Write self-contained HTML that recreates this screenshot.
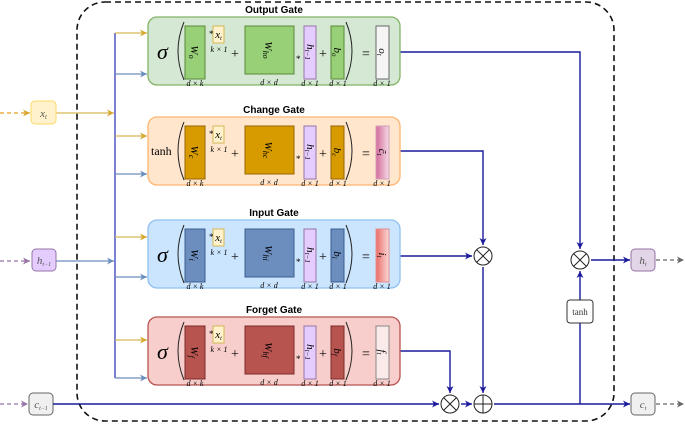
<!DOCTYPE html>
<html><head><meta charset="utf-8"><style>
body{margin:0;background:#fff}
svg{display:block;font-family:"Liberation Serif",serif}
.t{font-family:"Liberation Sans",sans-serif;font-weight:bold;font-size:10px}
.d{font-size:8px;font-style:italic}
.m{font-size:11px;font-style:italic}
</style></head><body>
<svg width="685" height="424" viewBox="0 0 685 424" xmlns="http://www.w3.org/2000/svg">
<defs>
<marker id="ab" markerWidth="8" markerHeight="8" refX="7" refY="4" orient="auto" markerUnits="userSpaceOnUse"><path d="M0,0.5 L7,4 L0,7.5 L2,4z" fill="#1a1a9a"/></marker>
<marker id="ay" markerWidth="8" markerHeight="8" refX="7" refY="4" orient="auto" markerUnits="userSpaceOnUse"><path d="M0,0.5 L7,4 L0,7.5 L2,4z" fill="#d6a830"/></marker>
<marker id="al" markerWidth="8" markerHeight="8" refX="7" refY="4" orient="auto" markerUnits="userSpaceOnUse"><path d="M0,0.5 L7,4 L0,7.5 L2,4z" fill="#6c8ebf"/></marker>
<marker id="ap" markerWidth="8" markerHeight="8" refX="7" refY="4" orient="auto" markerUnits="userSpaceOnUse"><path d="M0,0.5 L7,4 L0,7.5 L2,4z" fill="#9673a6"/></marker>
<marker id="ag" markerWidth="8" markerHeight="8" refX="7" refY="4" orient="auto" markerUnits="userSpaceOnUse"><path d="M0,0.5 L7,4 L0,7.5 L2,4z" fill="#666"/></marker>
<linearGradient id="gp" x1="0" x2="1"><stop offset="0" stop-color="#d46a9a"/><stop offset="1" stop-color="#f5dbe6"/></linearGradient>
<linearGradient id="gr" x1="0" x2="1"><stop offset="0" stop-color="#ea6b66"/><stop offset="1" stop-color="#fbd9d8"/></linearGradient>
</defs>

<!-- outer dashed -->
<rect x="77" y="2" width="537" height="419" rx="28" fill="none" stroke="#111" stroke-width="1.6" stroke-dasharray="6,4"/>

<!-- left bus -->
<line x1="115" y1="33" x2="115" y2="378" stroke="#5b5fc7" stroke-width="1.6"/>
<g stroke-width="1.2" fill="none">
<line x1="115" y1="33" x2="147" y2="33" stroke="#d6b656" marker-end="url(#ay)"/>
<line x1="115" y1="136" x2="147" y2="136" stroke="#d6b656" marker-end="url(#ay)"/>
<line x1="115" y1="237" x2="147" y2="237" stroke="#d6b656" marker-end="url(#ay)"/>
<line x1="115" y1="340" x2="147" y2="340" stroke="#d6b656" marker-end="url(#ay)"/>
<line x1="115" y1="74" x2="147" y2="74" stroke="#6c8ebf" marker-end="url(#al)"/>
<line x1="115" y1="174" x2="147" y2="174" stroke="#6c8ebf" marker-end="url(#al)"/>
<line x1="115" y1="277" x2="147" y2="277" stroke="#6c8ebf" marker-end="url(#al)"/>
<line x1="115" y1="378" x2="147" y2="378" stroke="#6c8ebf" marker-end="url(#al)"/>
<line x1="56" y1="113" x2="114" y2="113" stroke="#d6b656" marker-end="url(#ay)"/>
<line x1="56" y1="261" x2="114" y2="261" stroke="#6c8ebf" marker-end="url(#al)"/>
<line x1="0" y1="113" x2="30" y2="113" stroke="#e0a020" stroke-dasharray="4,3" marker-end="url(#ay)"/>
<line x1="0" y1="261" x2="30" y2="261" stroke="#9673a6" stroke-dasharray="4,3" marker-end="url(#ap)"/>
<line x1="0" y1="404" x2="28" y2="404" stroke="#9673a6" stroke-dasharray="4,3" marker-end="url(#ap)"/>
<line x1="656" y1="260" x2="684" y2="260" stroke="#666" stroke-dasharray="4,3" marker-end="url(#ag)"/>
<line x1="656" y1="404" x2="684" y2="404" stroke="#666" stroke-dasharray="4,3" marker-end="url(#ag)"/>
</g>
<rect x="31" y="101" width="25" height="23" rx="4" fill="#fff2cc" stroke="#ffd966"/>
<text x="43.5" y="117" text-anchor="middle" class="m" font-size="10" fill="#555">x<tspan font-size="7" dy="2">t</tspan></text>
<rect x="32" y="249" width="24" height="22" rx="4" fill="#e5ccff" stroke="#9673a6"/>
<text x="44" y="264" text-anchor="middle" class="m" font-size="9" fill="#555">h<tspan font-size="6" dy="2">t−1</tspan></text>
<rect x="29" y="393" width="24" height="22" rx="4" fill="#f0f0f0" stroke="#666"/>
<text x="41" y="408" text-anchor="middle" class="m" font-size="9" fill="#555">c<tspan font-size="6" dy="2">t−1</tspan></text>
<rect x="631" y="249" width="24" height="22" rx="4" fill="#e1d5e7" stroke="#9673a6"/>
<text x="643" y="264" text-anchor="middle" class="m" font-size="9" fill="#555">h<tspan font-size="6" dy="2">t</tspan></text>
<rect x="631" y="393" width="24" height="22" rx="4" fill="#f0f0f0" stroke="#666"/>
<text x="643" y="408" text-anchor="middle" class="m" font-size="9" fill="#555">c<tspan font-size="6" dy="2">t</tspan></text>

<!-- right connectors -->
<g stroke="#1a1a9a" stroke-width="1.4" fill="none">
<polyline points="400,52 580,52 580,249" marker-end="url(#ab)"/>
<polyline points="400,151 483,151 483,245" marker-end="url(#ab)"/>
<line x1="400" y1="256" x2="472" y2="256" marker-end="url(#ab)"/>
<polyline points="400,351 450,351 450,393" marker-end="url(#ab)"/>
<line x1="483" y1="267" x2="483" y2="393" marker-end="url(#ab)"/>
<line x1="53" y1="404" x2="439" y2="404" marker-end="url(#ab)"/>
<line x1="461" y1="404" x2="472" y2="404" marker-end="url(#ab)"/>
<line x1="494" y1="404" x2="630" y2="404" marker-end="url(#ab)"/>
<line x1="580" y1="404" x2="580" y2="323"/>
<line x1="580" y1="300" x2="580" y2="271" marker-end="url(#ab)"/>
<line x1="591" y1="260" x2="630" y2="260" marker-end="url(#ab)"/>
</g>
<g fill="#fff" stroke="#222" stroke-width="1">
<circle cx="483" cy="256" r="9"/><path d="M476.6,249.6 L489.4,262.4 M489.4,249.6 L476.6,262.4"/>
<circle cx="580" cy="260" r="9"/><path d="M573.6,253.6 L586.4,266.4 M586.4,253.6 L573.6,266.4"/>
<circle cx="450" cy="404" r="9"/><path d="M443.6,397.6 L456.4,410.4 M456.4,397.6 L443.6,410.4"/>
<circle cx="483" cy="404" r="9"/><path d="M483,395 L483,413 M474,404 L492,404"/>
</g>
<rect x="567" y="300" width="26" height="23" rx="3" fill="#fff" stroke="#333"/>
<text x="580" y="315" text-anchor="middle" font-size="9" fill="#333">tanh</text>

<!-- Gates -->
<!-- Output -->
<text x="274" y="13" text-anchor="middle" class="t">Output Gate</text>
<g transform="translate(148,17)">
<rect x="0" y="0" width="252" height="68" rx="9" fill="#d5e8d4" stroke="#82b366" stroke-width="1.3"/>
<text x="9" y="42" font-size="22" font-style="italic">σ</text>
<path d="M36,5 Q24,34 36,63" fill="none" stroke="#222"/><path d="M198,5 Q210,34 198,63" fill="none" stroke="#222"/>
<rect x="37" y="9" width="20" height="53" fill="#97d077" stroke="#5a8a3a"/><text transform="translate(43,35) rotate(90)" text-anchor="middle" class="m">W<tspan font-size="8" dy="2">o</tspan></text>
<rect x="65" y="9" width="11" height="17" fill="#fff2cc" stroke="#d6b656"/><text x="70.5" y="21" text-anchor="middle" class="m" font-size="10">x<tspan font-size="6" dy="2">t</tspan></text>
<text x="61" y="20" font-size="9">*</text><text x="71" y="35" text-anchor="middle" class="d">k × 1</text>
<text x="87" y="41" text-anchor="middle" font-size="14">+</text>
<rect x="97" y="9" width="49" height="48" fill="#97d077" stroke="#5a8a3a"/><text transform="translate(117,33) rotate(90)" text-anchor="middle" class="m">W<tspan font-size="8" dy="2">ho</tspan></text>
<text x="121" y="68" text-anchor="middle" class="d">d × d</text>
<text x="148" y="45" font-size="9">*</text>
<rect x="156" y="9" width="12" height="53" fill="#e5ccff" stroke="#9673a6"/><text transform="translate(159,35) rotate(90)" text-anchor="middle" class="m" font-size="10">h<tspan font-size="7" dy="2">t−1</tspan></text>
<text x="175" y="41" text-anchor="middle" font-size="14">+</text>
<rect x="183" y="9" width="13" height="53" fill="#97d077" stroke="#5a8a3a"/><text transform="translate(186,35) rotate(90)" text-anchor="middle" class="m">b<tspan font-size="7" dy="2">o</tspan></text>
<text x="218" y="41" text-anchor="middle" font-size="14">=</text>
<rect x="228" y="9" width="13" height="53" fill="#f5f5f5" stroke="#666"/><text transform="translate(231,35) rotate(90)" text-anchor="middle" class="m">o<tspan font-size="7" dy="2">t</tspan></text>
<text x="47" y="69" text-anchor="middle" class="d">d × k</text><text x="162" y="69" text-anchor="middle" class="d">d × 1</text><text x="190" y="69" text-anchor="middle" class="d">d × 1</text><text x="234" y="69" text-anchor="middle" class="d">d × 1</text>
</g>

<!-- Change -->
<text x="274" y="113" text-anchor="middle" class="t">Change Gate</text>
<g transform="translate(148,117)">
<rect x="0" y="0" width="252" height="68" rx="9" fill="#ffe6cc" stroke="#ffb570" stroke-width="1.3"/>
<text x="3" y="38" font-size="12">tanh</text>
<path d="M36,5 Q24,34 36,63" fill="none" stroke="#222"/><path d="M198,5 Q210,34 198,63" fill="none" stroke="#222"/>
<rect x="37" y="9" width="20" height="53" fill="#d79b00" stroke="#996600"/><text transform="translate(43,35) rotate(90)" text-anchor="middle" class="m">W<tspan font-size="8" dy="2">c</tspan></text>
<rect x="65" y="9" width="11" height="17" fill="#fff2cc" stroke="#d6b656"/><text x="70.5" y="21" text-anchor="middle" class="m" font-size="10">x<tspan font-size="6" dy="2">t</tspan></text>
<text x="61" y="20" font-size="9">*</text><text x="71" y="35" text-anchor="middle" class="d">k × 1</text>
<text x="87" y="41" text-anchor="middle" font-size="14">+</text>
<rect x="97" y="9" width="49" height="48" fill="#d79b00" stroke="#996600"/><text transform="translate(117,33) rotate(90)" text-anchor="middle" class="m">W<tspan font-size="8" dy="2">hc</tspan></text>
<text x="121" y="68" text-anchor="middle" class="d">d × d</text>
<text x="148" y="45" font-size="9">*</text>
<rect x="156" y="9" width="12" height="53" fill="#e5ccff" stroke="#9673a6"/><text transform="translate(159,35) rotate(90)" text-anchor="middle" class="m" font-size="10">h<tspan font-size="7" dy="2">t−1</tspan></text>
<text x="175" y="41" text-anchor="middle" font-size="14">+</text>
<rect x="183" y="9" width="13" height="53" fill="#d79b00" stroke="#996600"/><text transform="translate(186,35) rotate(90)" text-anchor="middle" class="m">b<tspan font-size="7" dy="2">c</tspan></text>
<text x="218" y="41" text-anchor="middle" font-size="14">=</text>
<rect x="228" y="9" width="13" height="53" fill="url(#gp)" stroke="#d0a0b8"/><text transform="translate(231,35) rotate(90)" text-anchor="middle" class="m">c̃<tspan font-size="7" dy="2">t</tspan></text>
<text x="47" y="69" text-anchor="middle" class="d">d × k</text><text x="162" y="69" text-anchor="middle" class="d">d × 1</text><text x="190" y="69" text-anchor="middle" class="d">d × 1</text><text x="234" y="69" text-anchor="middle" class="d">d × 1</text>
</g>

<!-- Input -->
<text x="274" y="216" text-anchor="middle" class="t">Input Gate</text>
<g transform="translate(148,220)">
<rect x="0" y="0" width="252" height="68" rx="9" fill="#cce5ff" stroke="#8ec0f0" stroke-width="1.3"/>
<text x="9" y="42" font-size="22" font-style="italic">σ</text>
<path d="M36,5 Q24,34 36,63" fill="none" stroke="#222"/><path d="M198,5 Q210,34 198,63" fill="none" stroke="#222"/>
<rect x="37" y="9" width="20" height="53" fill="#6c8ebf" stroke="#3d5f8f"/><text transform="translate(43,35) rotate(90)" text-anchor="middle" class="m">W<tspan font-size="8" dy="2">i</tspan></text>
<rect x="65" y="9" width="11" height="17" fill="#fff2cc" stroke="#d6b656"/><text x="70.5" y="21" text-anchor="middle" class="m" font-size="10">x<tspan font-size="6" dy="2">t</tspan></text>
<text x="61" y="20" font-size="9">*</text><text x="71" y="35" text-anchor="middle" class="d">k × 1</text>
<text x="87" y="41" text-anchor="middle" font-size="14">+</text>
<rect x="97" y="9" width="49" height="48" fill="#6c8ebf" stroke="#3d5f8f"/><text transform="translate(117,33) rotate(90)" text-anchor="middle" class="m">W<tspan font-size="8" dy="2">hi</tspan></text>
<text x="121" y="68" text-anchor="middle" class="d">d × d</text>
<text x="148" y="45" font-size="9">*</text>
<rect x="156" y="9" width="12" height="53" fill="#e5ccff" stroke="#9673a6"/><text transform="translate(159,35) rotate(90)" text-anchor="middle" class="m" font-size="10">h<tspan font-size="7" dy="2">t−1</tspan></text>
<text x="175" y="41" text-anchor="middle" font-size="14">+</text>
<rect x="183" y="9" width="13" height="53" fill="#6c8ebf" stroke="#3d5f8f"/><text transform="translate(186,35) rotate(90)" text-anchor="middle" class="m">b<tspan font-size="7" dy="2">i</tspan></text>
<text x="218" y="41" text-anchor="middle" font-size="14">=</text>
<rect x="228" y="9" width="13" height="53" fill="url(#gr)" stroke="#e09090"/><text transform="translate(231,35) rotate(90)" text-anchor="middle" class="m">i<tspan font-size="7" dy="2">t</tspan></text>
<text x="47" y="69" text-anchor="middle" class="d">d × k</text><text x="162" y="69" text-anchor="middle" class="d">d × 1</text><text x="190" y="69" text-anchor="middle" class="d">d × 1</text><text x="234" y="69" text-anchor="middle" class="d">d × 1</text>
</g>

<!-- Forget -->
<text x="274" y="313" text-anchor="middle" class="t">Forget Gate</text>
<g transform="translate(148,317)">
<rect x="0" y="0" width="252" height="68" rx="9" fill="#f8cecc" stroke="#b85450" stroke-width="1.3"/>
<text x="9" y="42" font-size="22" font-style="italic">σ</text>
<path d="M36,5 Q24,34 36,63" fill="none" stroke="#222"/><path d="M198,5 Q210,34 198,63" fill="none" stroke="#222"/>
<rect x="37" y="9" width="20" height="53" fill="#b85450" stroke="#7a2a28"/><text transform="translate(43,35) rotate(90)" text-anchor="middle" class="m">W<tspan font-size="8" dy="2">f</tspan></text>
<rect x="65" y="9" width="11" height="17" fill="#fff2cc" stroke="#d6b656"/><text x="70.5" y="21" text-anchor="middle" class="m" font-size="10">x<tspan font-size="6" dy="2">t</tspan></text>
<text x="61" y="20" font-size="9">*</text><text x="71" y="35" text-anchor="middle" class="d">k × 1</text>
<text x="87" y="41" text-anchor="middle" font-size="14">+</text>
<rect x="97" y="9" width="49" height="48" fill="#b85450" stroke="#7a2a28"/><text transform="translate(117,33) rotate(90)" text-anchor="middle" class="m">W<tspan font-size="8" dy="2">hf</tspan></text>
<text x="121" y="68" text-anchor="middle" class="d">d × d</text>
<text x="148" y="45" font-size="9">*</text>
<rect x="156" y="9" width="12" height="53" fill="#e5ccff" stroke="#9673a6"/><text transform="translate(159,35) rotate(90)" text-anchor="middle" class="m" font-size="10">h<tspan font-size="7" dy="2">t−1</tspan></text>
<text x="175" y="41" text-anchor="middle" font-size="14">+</text>
<rect x="183" y="9" width="13" height="53" fill="#b85450" stroke="#7a2a28"/><text transform="translate(186,35) rotate(90)" text-anchor="middle" class="m">b<tspan font-size="7" dy="2">f</tspan></text>
<text x="218" y="41" text-anchor="middle" font-size="14">=</text>
<rect x="228" y="9" width="13" height="53" fill="#fbeaea" stroke="#888"/><text transform="translate(231,35) rotate(90)" text-anchor="middle" class="m">f<tspan font-size="7" dy="2">t</tspan></text>
<text x="47" y="69" text-anchor="middle" class="d">d × k</text><text x="162" y="69" text-anchor="middle" class="d">d × 1</text><text x="190" y="69" text-anchor="middle" class="d">d × 1</text><text x="234" y="69" text-anchor="middle" class="d">d × 1</text>
</g>
</svg>
</body></html>
